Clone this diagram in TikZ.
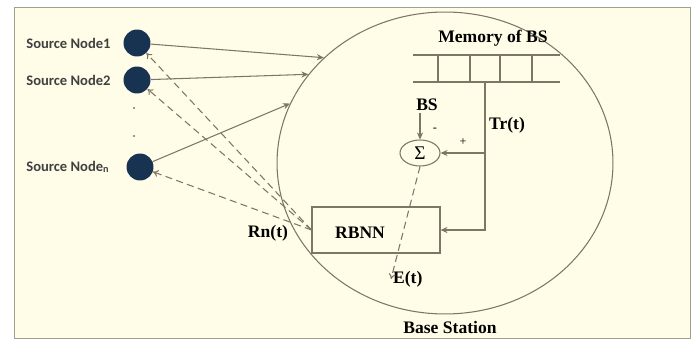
\documentclass[tikz,border=0pt]{standalone}
\usepackage{fontspec}
\setmainfont{Liberation Serif}
\newfontfamily\srcfont{Carlito}
\usepackage{tikz}
\usetikzlibrary{shapes.geometric, arrows.meta, positioning, calc}
\definecolor{paper}{RGB}{255,253,231}
\definecolor{frameln}{RGB}{160,160,140}
\definecolor{wireln}{RGB}{125,118,100}
\definecolor{dotblue}{RGB}{24,50,82}
\tikzstyle{sendarrow} = [draw=wireln, line width=0.6pt, -{Stealth[length=4pt, width=3.5pt]}]

\begin{document}
\begin{tikzpicture}[
  x=0.02cm, y=-0.02cm,
  src/.style={circle, fill=dotblue, minimum size=0.54cm, inner sep=0pt},
  srclbl/.style={font=\srcfont\bfseries\fontsize{8.3}{9}\selectfont, text=black!75, anchor=west, inner sep=0pt},
  al/.style={font=\bfseries\fontsize{10}{12}\selectfont, inner sep=1pt},
  wire/.style={draw=wireln, line width=0.6pt},
  back/.style={wire, dash pattern=on 4pt off 2.5pt, -{To[length=3pt, width=4pt]}},
  block/.style={wire, minimum width=2.56cm, minimum height=0.92cm, inner sep=0pt},
]
  \useasboundingbox (0,0) rectangle (696,341);
  \draw[frameln, fill=paper] (14,7) rectangle (690,338);

  % base station
  \node[ellipse, wire, minimum width=6.72cm, minimum height=6.04cm] (bs) at (445,163) {};
  \node[al] (bslbl) at (450,327) {Base Station};

  % source nodes
  \node[src] (s1) at (137,43) {};
  \node[src] (s2) at (137,80) {};
  \node[src] (sn) at (140,167) {};
  \node[srclbl] (l1) at (26,43) {Source Node1};
  \node[srclbl] (l2) at (26,80) {Source Node2};
  \node[srclbl] (ln) at (26,167) {Source Node\textsubscript{n}};
  \fill[wireln] (134,108) circle (1.1) (134,136) circle (1.1);

  % memory of BS
  \node[al] (mem) at (493,38) {Memory of BS};
  \draw[wire] (413,55) -- (560,55) (413,82) -- (560,82);
  \foreach \x in {438,470,500,532}
    \draw[wire] (\x,55) -- (\x,82);
  \coordinate (tap) at (485,82);

  % comparator and network
  \node[ellipse, wire, minimum width=0.8cm, minimum height=0.52cm, inner sep=0pt,
        font=\fontsize{11}{12}\selectfont] (sig) at (420,153) {Σ};
  \node[al] (bsin) at (427,105) {BS};
  \node[block] (rbnn) at (376,230) {};
  \node[al] (rbnnlbl) at (360,233) {RBNN};
  \node[al] (tr) at (507,125) {Tr(t)};
  \node[al] (rn) at (268,233) {Rn(t)};
  \node[al, anchor=west] (err) at (391,279) {E(t)};
  \node[font=\scriptsize] (minus) at (435,130) {-};
  \node[font=\scriptsize] (plus) at (463,142) {+};

  % forward links
  \draw[sendarrow] (s1) -- (bs.139);
  \draw[sendarrow] (s2) -- (bs.147);
  \draw[sendarrow] (sn) -- (bs.159);

  % training path
  \draw[wire, -{Stealth[length=4pt, width=3.5pt]}] (tap) |- (rbnn.east);
  \draw[wire, -{Stealth[length=4pt, width=3.5pt]}] (sig -| tap) -- (sig.east);
  \draw[wire, -{Stealth[length=4pt, width=3.5pt]}] (sig.north |- bsin.south) -- (sig.north);
  \draw[back] (sig.south) -- (err.west);

  % feedback to sources
  \draw[back] (rbnn.west) -- (s1);
  \draw[back] (rbnn.west) -- (s2);
  \draw[back] (rbnn.west) -- (sn);
\end{tikzpicture}
\end{document}
